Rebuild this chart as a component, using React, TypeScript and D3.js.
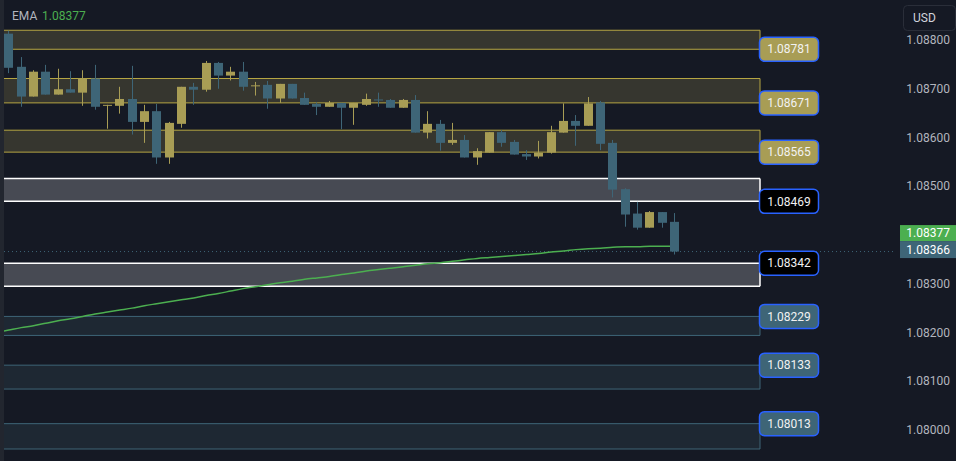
import React from "react";
import * as d3 from "d3";

const W = 956;
const H = 461;

// Candles (OHLC)
const opens = [1.08813,1.08745,1.08684,1.08735,1.08688,1.08699,1.08692,1.08721,1.08666,1.08665,1.08679,1.08632,1.08654,1.08559,1.08628,1.08704,1.08698,1.08753,1.08727,1.08735,1.08706,1.08708,1.08680,1.08710,1.08681,1.08669,1.08663,1.08671,1.08661,1.08667,1.08678,1.08677,1.08661,1.08677,1.08610,1.08628,1.08589,1.08595,1.08559,1.08569,1.08611,1.08591,1.08566,1.08561,1.08569,1.08610,1.08634,1.08624,1.08672,1.08589,1.08494,1.08444,1.08415,1.08447,1.08427];
const highs = [1.08819,1.08765,1.08738,1.08749,1.08741,1.08736,1.08738,1.08749,1.08667,1.08704,1.08747,1.08667,1.08669,1.08632,1.08704,1.08712,1.08757,1.08755,1.08745,1.08755,1.08714,1.08716,1.08710,1.08710,1.08692,1.08672,1.08675,1.08671,1.08671,1.08690,1.08692,1.08679,1.08679,1.08687,1.08654,1.08636,1.08630,1.08605,1.08578,1.08611,1.08615,1.08595,1.08574,1.08593,1.08624,1.08670,1.08646,1.08683,1.08675,1.08595,1.08496,1.08468,1.08449,1.08447,1.08445];
const lows = [1.08732,1.08663,1.08684,1.08688,1.08688,1.08692,1.08665,1.08657,1.08618,1.08649,1.08606,1.08589,1.08546,1.08546,1.08620,1.08667,1.08694,1.08700,1.08717,1.08696,1.08686,1.08659,1.08671,1.08680,1.08667,1.08646,1.08663,1.08617,1.08626,1.08665,1.08663,1.08661,1.08661,1.08610,1.08598,1.08573,1.08585,1.08559,1.08544,1.08569,1.08581,1.08565,1.08554,1.08557,1.08567,1.08610,1.08583,1.08624,1.08574,1.08477,1.08417,1.08411,1.08415,1.08415,1.08360];
const closes = [1.08743,1.08684,1.08735,1.08688,1.08699,1.08692,1.08721,1.08663,1.08667,1.08679,1.08632,1.08654,1.08559,1.08630,1.08704,1.08698,1.08753,1.08727,1.08735,1.08704,1.08707,1.08680,1.08710,1.08680,1.08667,1.08663,1.08671,1.08661,1.08671,1.08679,1.08677,1.08661,1.08677,1.08610,1.08628,1.08589,1.08595,1.08559,1.08572,1.08611,1.08589,1.08565,1.08561,1.08569,1.08611,1.08634,1.08624,1.08670,1.08587,1.08493,1.08442,1.08415,1.08447,1.08425,1.08366];

// EMA values, starting one bar before the first visible candle
const emaValues = [1.08200,1.08205,1.08210,1.08214,1.08219,1.08224,1.08228,1.08233,1.08238,1.08242,1.08246,1.08250,1.08255,1.08259,1.08263,1.08267,1.08271,1.08276,1.08280,1.08285,1.08290,1.08294,1.08298,1.08302,1.08305,1.08309,1.08312,1.08315,1.08319,1.08322,1.08326,1.08329,1.08332,1.08335,1.08338,1.08341,1.08343,1.08346,1.08349,1.08352,1.08354,1.08356,1.08358,1.08360,1.08362,1.08365,1.08367,1.08370,1.08372,1.08373,1.08375,1.08376,1.08376,1.08377,1.08377,1.08377];

// Zones
const zoneHighs = [1.08820, 1.08721, 1.08615, 1.08516, 1.08342, 1.08233, 1.08133, 1.08013];
const zoneLows = [1.08781, 1.08671, 1.08570, 1.08469, 1.08295, 1.08194, 1.08084, 1.07961];
const zoneLabels = ["1.08781", "1.08671", "1.08565", "1.08469", "1.08342", "1.08229", "1.08133", "1.08013"];
const zoneKinds = ["res", "res", "res", "mid", "mid", "sup", "sup", "sup"];

const yTicks = [1.088, 1.087, 1.086, 1.085, 1.083, 1.082, 1.081, 1.08];
const lastClose = 1.08366;
const emaLast = 1.08377;

const BG = "#151924";
const BULL = "#a89d55";
const BEAR = "#3e6577";
const GREEN = "#4caf50";
const TXT = "#b2b5be";
const FONT = "Roboto, 'Noto Sans', sans-serif";

const zoneStyle: Record<string, { fill: string; line: string; lw: number; label: string }> = {
  res: { fill: "#36362f", line: "#b5a543", lw: 1, label: BULL },
  mid: { fill: "#474a53", line: "#ffffff", lw: 1.5, label: "#000000" },
  sup: { fill: "#1e2833", line: "#3e6577", lw: 1, label: "#3e6577" },
};

export default function App() {
  const plotLeft = 4;
  const plotRight = 896;
  const zoneRight = 760;
  const x = d3.scaleLinear().domain([0, 54]).range([8.8, 674.5]);
  const y = d3.scaleLinear().domain([1.08, 1.088]).range([430, 40]);
  const bodyW = 9;

  const emaLine = d3
    .line<number>()
    .x((_, i) => x(i - 1))
    .y((d) => y(d))
    .curve(d3.curveMonotoneX);

  const lastY = y(lastClose);
  const tealBoxY = lastY - 2;
  const greenBoxY = tealBoxY - 16.5;

  return (
    <svg width={W} height={H} style={{ display: "block", position: "absolute", left: 0, top: 0 }} fontFamily={FONT}>
      <defs>
        <clipPath id="plot">
          <rect x={plotLeft} y={0} width={plotRight - plotLeft} height={H} />
        </clipPath>
      </defs>
      <rect x={0} y={0} width={W} height={H} fill={BG} />
      <rect x={0} y={0} width={plotLeft} height={H} fill="#22262f" />

      {/* zones */}
      {zoneHighs.map((hi, i) => {
        const lo = zoneLows[i];
        const st = zoneStyle[zoneKinds[i]];
        const y1 = y(hi);
        const y2 = y(lo);
        return (
          <g key={"z" + i}>
            <rect x={plotLeft} y={y1} width={zoneRight - plotLeft} height={y2 - y1} fill={st.fill} />
            <line x1={plotLeft} x2={zoneRight} y1={y1} y2={y1} stroke={st.line} strokeWidth={st.lw} />
            <line x1={plotLeft} x2={zoneRight} y1={y2} y2={y2} stroke={st.line} strokeWidth={st.lw} />
            <line x1={zoneRight} x2={zoneRight} y1={y1} y2={y2} stroke={st.line} strokeWidth={st.lw} />
          </g>
        );
      })}

      {/* last price dotted line */}
      <line x1={plotLeft} x2={plotRight} y1={lastY} y2={lastY} stroke={BEAR} strokeWidth={1} strokeDasharray="1,3" />

      {/* EMA */}
      <path d={emaLine(emaValues) || ""} fill="none" stroke={GREEN} strokeWidth={1.5} clipPath="url(#plot)" />

      {/* candles */}
      {opens.map((o, i) => {
        const c = closes[i];
        const col = c >= o ? BULL : BEAR;
        const bx = Math.round(x(i) - bodyW / 2);
        const cx = bx + bodyW / 2;
        const top = y(Math.max(o, c));
        const bot = y(Math.min(o, c));
        return (
          <g key={"c" + i}>
            <line x1={cx} x2={cx} y1={y(highs[i])} y2={y(lows[i])} stroke={col} strokeWidth={1} />
            <rect x={bx} y={top} width={bodyW} height={Math.max(1, bot - top)} fill={col} />
          </g>
        );
      })}

      {/* zone labels */}
      {zoneHighs.map((hi, i) => {
        const lo = zoneLows[i];
        const st = zoneStyle[zoneKinds[i]];
        const ly = lo > lastClose ? y(lo) : y(hi);
        return (
          <g key={"zl" + i}>
            <rect x={759.5} y={ly - 12} width={59} height={24} rx={5} fill={st.label} stroke="#2962ff" strokeWidth={1.5} />
            <text x={789} y={ly} dy="0.35em" textAnchor="middle" fontSize={12} fill="#f2f2f2">
              {zoneLabels[i]}
            </text>
          </g>
        );
      })}

      {/* y axis labels */}
      {yTicks.map((t) => (
        <text key={"t" + t} x={950} y={y(t)} dy="0.35em" textAnchor="end" fontSize={12} fill={TXT}>
          {t.toFixed(5)}
        </text>
      ))}

      {/* price boxes */}
      <rect x={900} y={greenBoxY - 8} width={56} height={16} fill={GREEN} />
      <text x={950} y={greenBoxY} dy="0.35em" textAnchor="end" fontSize={12} fill="#ffffff">
        {emaLast.toFixed(5)}
      </text>
      <rect x={900} y={tealBoxY - 8.5} width={56} height={17} fill={BEAR} />
      <text x={950} y={tealBoxY} dy="0.35em" textAnchor="end" fontSize={12} fill="#ffffff">
        {lastClose.toFixed(5)}
      </text>

      {/* USD box */}
      <rect x={903.5} y={5.5} width={52} height={25} rx={4} fill={BG} stroke="#2a2e39" strokeWidth={1} />
      <text x={913} y={18} dy="0.35em" fontSize={12} fill="#d1d4dc">USD</text>

      {/* EMA legend */}
      <text x={12} y={16} dy="0.35em" fontSize={12} fill={TXT}>EMA</text>
      <text x={42} y={16} dy="0.35em" fontSize={12} fill={GREEN}>{emaLast.toFixed(5)}</text>
    </svg>
  );
}
